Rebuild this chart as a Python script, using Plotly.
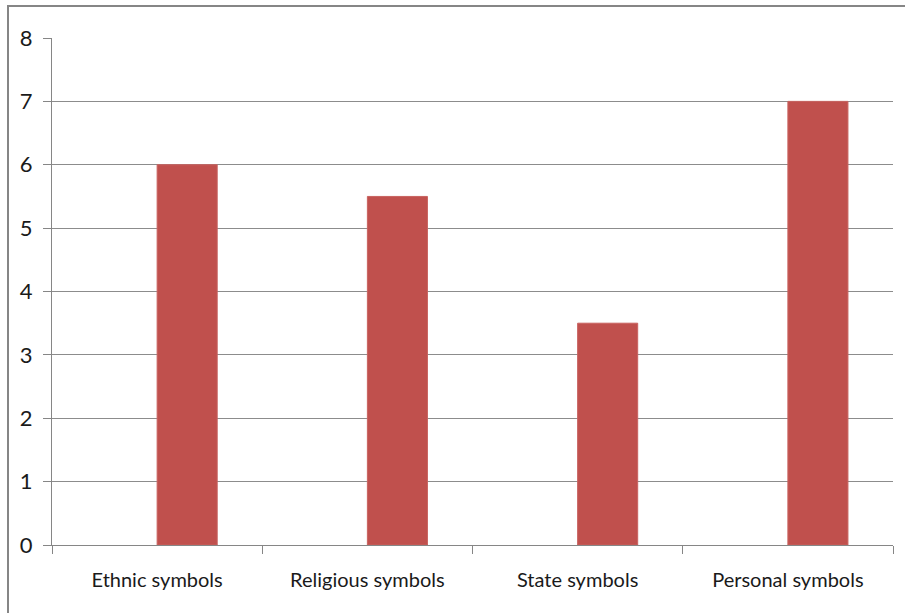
import plotly.graph_objects as go

categories = ["Ethnic symbols", "Religious symbols", "State symbols", "Personal symbols"]
values = [6, 5.5, 3.5, 7]
y_ticks = [0, 1, 2, 3, 4, 5, 6, 7, 8]

W, H = 905, 613
L, R, T, B = 52, 12, 38, 68
pw, ph = W - L - R, H - T - B

fig = go.Figure()
fig.add_trace(go.Bar(
    x=categories, y=values,
    offset=0, width=0.2857,
    marker=dict(color="#C0504D", line=dict(color="#C9625F", width=1)),
    hoverinfo="x+y",
))

font_fam = "Lato, sans-serif"

fig.update_layout(
    width=W, height=H,
    margin=dict(l=L, r=R, t=T, b=B, autoexpand=False),
    paper_bgcolor="white", plot_bgcolor="white",
    showlegend=False,
    font=dict(family=font_fam, color="#1a1a1a"),
    xaxis=dict(
        type="category",
        showgrid=False,
        showline=True, linecolor="#868686", linewidth=1,
        ticks="outside", tickson="boundaries", ticklen=8, tickcolor="#868686",
        tickfont=dict(size=20, family=font_fam, color="#1a1a1a"),
        ticklabelstandoff=17,
        range=[-0.5, 3.5],
        fixedrange=True,
        automargin=False,
    ),
    yaxis=dict(
        range=[0, 8],
        tickvals=y_ticks,
        showgrid=True, gridcolor="#8C8C8C", gridwidth=1,
        showline=True, linecolor="#868686", linewidth=1,
        ticks="outside", ticklen=8, tickcolor="#868686",
        tickfont=dict(size=22, family=font_fam, color="#1a1a1a"),
        ticklabelstandoff=6,
        zeroline=False,
        fixedrange=True,
        automargin=False,
    ),
)

# outer chart border (only top/left visible in crop)
x0 = (8 - L) / pw
y1 = (H - B - 6) / ph
fig.add_shape(type="rect", xref="paper", yref="paper",
              x0=x0, x1=1.5, y0=-0.5, y1=y1,
              line=dict(color="#868686", width=2), fillcolor="rgba(0,0,0,0)", layer="below")

fig.write_html("out.html", config={"displayModeBar": False},
               post_script="document.body.style.margin='0';document.body.style.overflow='hidden';")
